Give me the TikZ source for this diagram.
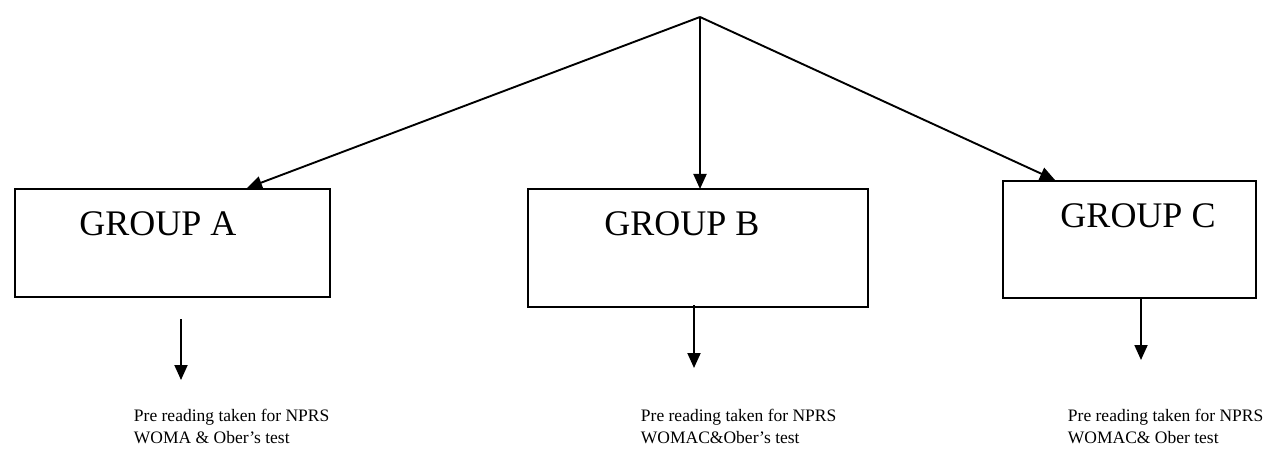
\documentclass[tikz,border=0pt]{standalone}
\usepackage{fontspec}
\setmainfont{Liberation Serif}
\usetikzlibrary{arrows.meta}
\begin{document}
\begin{tikzpicture}[x=1pt,y=-1pt,
  line width=1.9pt,
  groupbox/.style={draw,line width=1.6pt,inner sep=0pt},
  grouplabel/.style={font=\fontsize{36}{40}\selectfont,inner sep=0pt,anchor=base},
  note/.style={font=\fontsize{17.5}{22}\selectfont,inner sep=0pt,anchor=base west,align=left},
  arr/.style={-{Triangle[length=15pt,width=13pt]}}]
\useasboundingbox (0,0) rectangle (1265,454);
\coordinate (apex) at (700,17);
% boxes
\draw[groupbox] (15,189) rectangle (330,297);
\draw[groupbox] (528,189) rectangle (868,307);
\draw[groupbox] (1003,181) rectangle (1256,298);
\node[grouplabel] (ga) at (158,236) {GROUP A};
\node[grouplabel] (gb) at (682,236) {GROUP B};
\node[grouplabel] (gc) at (1138,228) {GROUP C};
\coordinate (ta) at (247,188);
\coordinate (tb) at (700,189);
\coordinate (tc) at (1055,180);
\draw[arr] (apex) -- (ta);
\draw[arr] (apex) -- (tb);
\draw[arr] (apex) -- (tc);
% lower arrows
\coordinate (a1) at (181,319); \coordinate (a2) at (181,380);
\coordinate (b1) at (694,305); \coordinate (b2) at (694,368);
\coordinate (c1) at (1141,297); \coordinate (c2) at (1141,360);
\draw[arr] (a1) -- (a2);
\draw[arr] (b1) -- (b2);
\draw[arr] (c1) -- (c2);
% notes (base = baseline of the last line)
\node[note] (na) at (133,443) {Pre reading taken for NPRS\\WOMA \& Ober’s test};
\node[note] (nb) at (640,443) {Pre reading taken for NPRS\\WOMAC\&Ober’s test};
\node[note] (nc) at (1067,443) {Pre reading taken for NPRS\\WOMAC\& Ober test};
\end{tikzpicture}
\end{document}
